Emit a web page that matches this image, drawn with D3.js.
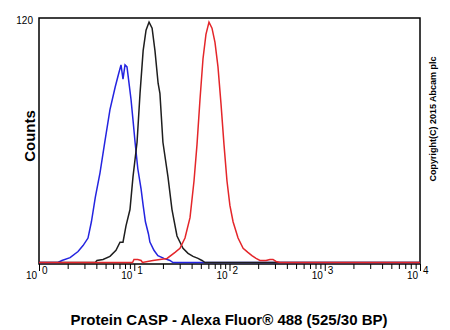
<!DOCTYPE html>
<html>
<head>
<meta charset="utf-8">
<script src="https://cdn.jsdelivr.net/npm/d3@7"></script>
<style>
  body { margin: 0; background: #fff; }
  text { font-family: "Liberation Sans", Arial, sans-serif; }
</style>
</head>
<body>
<svg id="chart" width="450" height="330"></svg>
<script>
// fluorescence values (x) and counts (y)
const blueX = [1, 1.58, 1.74, 2.12, 2.57, 2.90, 3.27, 3.55, 3.90, 4.37, 4.90, 5.56, 6.30, 6.80, 7.26, 7.62, 8.00, 8.39, 8.81, 9.25, 9.70, 10.2, 10.9, 11.8, 12.4, 13.1, 14.1, 14.6, 16.1, 17.7, 20.5, 23.7, 25.5, 10000];
const blueY = [0, 0, 1, 2.4, 5.4, 8.3, 12, 20, 32, 44, 59, 75, 86, 92, 97, 90, 97, 96, 88, 80, 70, 59, 46, 36, 28, 20, 14, 10, 6, 3.4, 2, 1, 0, 0];

const blackX = [1, 3.9, 4.06, 4.70, 5.56, 6.43, 7.09, 7.62, 8.19, 9.02, 9.70, 10.7, 11.5, 12.4, 13.3, 14.3, 15.4, 16.5, 17.8, 18.6, 20.0, 22.6, 24.9, 28.1, 32.5, 36.7, 41.4, 46.7, 51.4, 55.3, 10000];
const blackY = [0, 0, 1, 1.5, 3, 6, 10, 10, 18, 26, 42, 59, 83, 104, 114, 118, 115, 104, 88, 83, 59, 42, 26, 13, 7, 4.5, 3, 2, 1, 0, 0];

const redX = [1, 9.6, 9.93, 10.9, 11.8, 12.2, 15.7, 18.6, 22.1, 26.8, 30.2, 34.1, 38.5, 42.4, 45.6, 49.0, 52.7, 56.6, 60.9, 65.5, 70.4, 75.7, 81.4, 87.5, 94.1, 101, 109, 123, 139, 156, 172, 190, 209, 242, 266, 286, 308, 339, 10000];
const redY = [0, 0, 1.5, 1.5, 1, 0, 1, 1.5, 2, 5, 7, 12, 22, 40, 58, 80, 100, 112, 118, 115, 108, 96, 78, 58, 40, 28, 20, 12, 7, 5, 3.4, 2, 1, 1, 1.5, 1.5, 0.5, 0, 0];

const decades = [0, 1, 2, 3, 4];
const yMax = 120;

const svg = d3.select("#chart");
const margin = {top: 18, right: 30, bottom: 66, left: 39};
const width = 450 - margin.left - margin.right;
const height = 330 - margin.top - margin.bottom;

const x = d3.scaleLog().domain([1, 10000]).range([margin.left, margin.left + width]);
const y = d3.scaleLinear().domain([0, yMax]).range([margin.top + height - 1.5, margin.top]);

// frame
svg.append("rect")
  .attr("x", margin.left).attr("y", margin.top)
  .attr("width", width).attr("height", height)
  .attr("fill", "none").attr("stroke", "#000").attr("stroke-width", 1.5);

// curves
const line = d3.line().x(d => x(d[0])).y(d => y(d[1]));
const series = [
  {xs: blueX, ys: blueY, color: "#2424e0"},
  {xs: blackX, ys: blackY, color: "#1e1e1e"},
  {xs: redX, ys: redY, color: "#e4262a"}
];
series.forEach(function(s) {
  svg.append("path")
    .datum(s.xs.map((v, i) => [v, s.ys[i]]))
    .attr("fill", "none")
    .attr("stroke", s.color)
    .attr("stroke-width", 1.5)
    .attr("d", line);
});

// x ticks (log)
const xAxis = d3.axisBottom(x)
  .tickValues(d3.range(0, 4).flatMap(dd => d3.range(1, 10).map(m => m * Math.pow(10, dd))).concat([10000]))
  .tickSize(5)
  .tickFormat("");
const gx = svg.append("g")
  .attr("transform", "translate(0," + (margin.top + height) + ")")
  .call(xAxis);
gx.select(".domain").remove();
gx.selectAll(".tick line")
  .attr("stroke", "#000")
  .attr("y2", d => Number.isInteger(Math.log10(d)) ? 7 : 5);

// decade labels
decades.forEach(function(p) {
  const tx = x(Math.pow(10, p));
  svg.append("text")
    .attr("x", tx - 2).attr("y", 279)
    .attr("text-anchor", "end")
    .attr("font-size", 10)
    .text("10");
  svg.append("text")
    .attr("x", tx + 3).attr("y", 274)
    .attr("font-size", 10)
    .text(p);
});

// y label at top
svg.append("text")
  .attr("x", 33).attr("y", 24)
  .attr("text-anchor", "end")
  .attr("font-size", 10)
  .text(yMax);

svg.append("text")
  .attr("transform", "translate(35,136) rotate(-90)")
  .attr("text-anchor", "middle")
  .attr("font-size", 15)
  .attr("font-weight", "bold")
  .text("Counts");

svg.append("text")
  .attr("x", 229).attr("y", 325)
  .attr("text-anchor", "middle")
  .attr("font-size", 15)
  .attr("font-weight", "bold")
  .text("Protein CASP - Alexa Fluor® 488 (525/30 BP)");

svg.append("text")
  .attr("transform", "translate(436,119) rotate(-90)")
  .attr("text-anchor", "middle")
  .attr("font-size", 9)
  .attr("font-weight", "bold")
  .text("Copyright(C) 2015 Abcam plc");
</script>
</body>
</html>
